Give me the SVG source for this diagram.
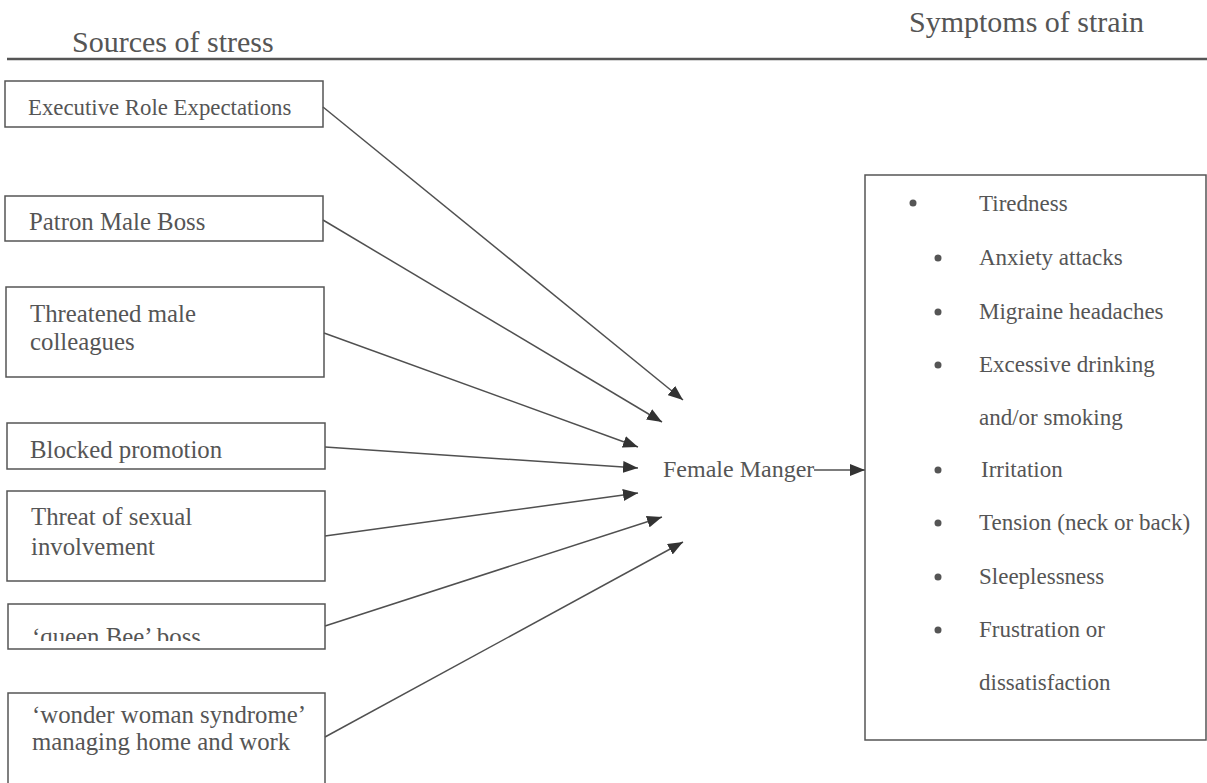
<svg xmlns="http://www.w3.org/2000/svg" width="1207" height="783" viewBox="0 0 1207 783">
<style>
  .bg { fill: #ffffff; }
  .box { fill: none; stroke: #555555; stroke-width: 1.5; }
  .t { font-family: "Liberation Serif", "Times New Roman", serif; fill: #555555; }
  .lbl { font-size: 24.8px; }
  .small { font-size: 22.8px; }
  .item { font-size: 23px; }
  .head { font-size: 30px; }
  .conn { stroke: #505050; stroke-width: 1.5; fill: none; marker-end: url(#ah); }
  .dot { fill: #555555; }
</style>
<defs>
  <marker id="ah" markerUnits="userSpaceOnUse" markerWidth="16" markerHeight="12" refX="15" refY="6" orient="auto">
    <path d="M0,0 L15,6 L0,12 z" fill="#333333"/>
  </marker>
  <clipPath id="qclip">
    <rect x="8" y="604" width="317" height="37"/>
  </clipPath>
</defs>
<rect class="bg" x="0" y="0" width="1207" height="783"/>

<g id="headers">
  <text class="t head" x="72" y="52">Sources of stress</text>
  <text class="t head" x="909" y="32">Symptoms of strain</text>
  <line x1="7" y1="59" x2="1207" y2="59" stroke="#555555" stroke-width="2.5"/>
</g>

<g id="connectors">
  <line class="conn" x1="323" y1="107" x2="683" y2="400"/>
  <line class="conn" x1="323" y1="220" x2="662" y2="422"/>
  <line class="conn" x1="324" y1="333" x2="638" y2="447"/>
  <line class="conn" x1="325" y1="447" x2="638" y2="468"/>
  <line class="conn" x1="325" y1="536" x2="638" y2="493"/>
  <line class="conn" x1="325" y1="626" x2="662" y2="517"/>
  <line class="conn" x1="325" y1="737" x2="683" y2="542"/>
  <line class="conn" x1="814" y1="470" x2="865" y2="470"/>
</g>

<g id="node-exec">
  <rect class="box" x="5" y="81" width="318" height="46"/>
  <text class="t small" x="28" y="115">Executive Role Expectations</text>
</g>
<g id="node-patron">
  <rect class="box" x="5" y="196" width="318" height="45"/>
  <text class="t lbl" x="29" y="230">Patron Male Boss</text>
</g>
<g id="node-threatened">
  <rect class="box" x="6" y="287" width="318" height="90"/>
  <text class="t lbl" x="30" y="322">Threatened male</text>
  <text class="t lbl" x="30" y="350">colleagues</text>
</g>
<g id="node-blocked">
  <rect class="box" x="7" y="423" width="318" height="46"/>
  <text class="t lbl" x="30" y="458">Blocked promotion</text>
</g>
<g id="node-sexual">
  <rect class="box" x="7" y="491" width="318" height="90"/>
  <text class="t lbl" x="31" y="525">Threat of sexual</text>
  <text class="t lbl" x="31" y="555">involvement</text>
</g>
<g id="node-queen">
  <rect class="box" x="8" y="604" width="317" height="45"/>
  <text class="t lbl" x="32" y="645" clip-path="url(#qclip)">‘queen Bee’ boss</text>
</g>
<g id="node-wonder">
  <rect class="box" x="8" y="693" width="317" height="100"/>
  <text class="t lbl" x="32" y="723">‘wonder woman syndrome’</text>
  <text class="t lbl" x="32" y="750">managing home and work</text>
</g>

<g id="node-female">
  <text class="t lbl" x="663" y="477" style="font-size:24px">Female Manger</text>
</g>

<g id="node-symptoms">
  <rect class="box" x="865" y="175" width="341" height="565"/>
  <circle class="dot" cx="913" cy="203" r="3.5"/>
  <text class="t item" x="979" y="211">Tiredness</text>
  <circle class="dot" cx="938" cy="258" r="3.5"/>
  <text class="t item" x="979" y="265">Anxiety attacks</text>
  <circle class="dot" cx="938" cy="312" r="3.5"/>
  <text class="t item" x="979" y="319">Migraine headaches</text>
  <circle class="dot" cx="938" cy="365" r="3.5"/>
  <text class="t item" x="979" y="372">Excessive drinking</text>
  <text class="t item" x="979" y="425">and/or smoking</text>
  <circle class="dot" cx="938" cy="470" r="3.5"/>
  <text class="t item" x="981" y="477">Irritation</text>
  <circle class="dot" cx="938" cy="523" r="3.5"/>
  <text class="t item" x="979" y="530">Tension (neck or back)</text>
  <circle class="dot" cx="938" cy="577" r="3.5"/>
  <text class="t item" x="979" y="584">Sleeplessness</text>
  <circle class="dot" cx="938" cy="630" r="3.5"/>
  <text class="t item" x="979" y="637">Frustration or</text>
  <text class="t item" x="979" y="690">dissatisfaction</text>
</g>
</svg>
